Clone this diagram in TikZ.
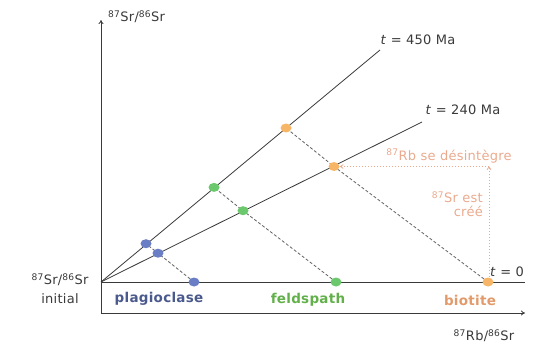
\documentclass[tikz,border=0pt]{standalone}
\usepackage{fontspec}
\setmainfont{DejaVu Sans}[LetterSpace=2]
\usetikzlibrary{arrows.meta,shapes.geometric}
\definecolor{axisgray}{HTML}{3A3A3A}
\definecolor{bluedot}{HTML}{6A7EC6}
\definecolor{bluetxt}{HTML}{4B5A8C}
\definecolor{greendot}{HTML}{6CC86C}
\definecolor{greentxt}{HTML}{62B04A}
\definecolor{orangedot}{HTML}{F7B567}
\definecolor{orangetxt}{HTML}{E39A6B}
\definecolor{annot}{HTML}{EAAA8E}
\begin{document}
\begin{tikzpicture}[x=1pt,y=-1pt,
  dot/.style={ellipse,minimum width=11pt,minimum height=9pt,inner sep=0pt,draw=none},
  ax/.style={draw=axisgray,line width=0.8pt,-{To[length=4pt,width=5pt]}},
  iso/.style={draw=axisgray,line width=0.8pt},
  dsh/.style={draw=axisgray!80,line width=0.8pt,dash pattern=on 3pt off 2pt},
  ann/.style={draw=annot,line width=0.8pt,dash pattern=on 1.5pt off 1.5pt,-{To[length=3.5pt,width=4.5pt]}},
  lbl/.style={font=\fontsize{13}{14}\selectfont,text=axisgray,inner sep=1pt},
  mineral/.style={font=\fontsize{13.5}{15}\selectfont\bfseries,inner sep=1pt}]
\useasboundingbox (0,0) rectangle (537,345);
% axes
\coordinate (O) at (101,313);
\coordinate (ytop) at (101,20);
\coordinate (xend) at (525,313);
\draw[ax] (O) -- (ytop);
\draw[ax] (O) -- (xend);
% origin of isochrons and baseline
\coordinate (S) at (101,282);
\coordinate (Bend) at (525,282);
\coordinate (E450) at (380,50);
\coordinate (E240) at (422,122);
\draw[iso] (S) -- (Bend);
\draw[iso] (S) -- (E450);
\draw[iso] (S) -- (E240);
% points
\coordinate (b0) at (194,282);
\coordinate (b2) at (158,253.2);
\coordinate (b4) at (146,243.7);
\coordinate (g0) at (336,282);
\coordinate (g2) at (243,210.7);
\coordinate (g4) at (214,187.4);
\coordinate (o0) at (488,282);
\coordinate (o2) at (334,166.5);
\coordinate (o4) at (286,128);
% dashed evolution lines
\draw[dsh] (b0) -- (b2) -- (b4);
\draw[dsh] (g0) -- (g2) -- (g4);
\draw[dsh] (o0) -- (o2) -- (o4);
% annotation arrows
\coordinate (o0top) at (489,277);
\coordinate (corner) at (489,166.5);
\coordinate (o2right) at (340,166.5);
\draw[ann] (o0top) -- (corner);
\draw[ann] (corner) -- (o2right);
% dots
\node[dot,fill=bluedot] (B0) at (b0) {};
\node[dot,fill=bluedot] (B2) at (b2) {};
\node[dot,fill=bluedot] (B4) at (b4) {};
\node[dot,fill=greendot] (G0) at (g0) {};
\node[dot,fill=greendot] (G2) at (g2) {};
\node[dot,fill=greendot] (G4) at (g4) {};
\node[dot,fill=orangedot] (O0) at (o0) {};
\node[dot,fill=orangedot] (O2) at (o2) {};
\node[dot,fill=orangedot] (O4) at (o4) {};
% labels
\node[lbl,anchor=west] (ylab) at (107,17) {\textsuperscript{87}Sr/\textsuperscript{86}Sr};
\node[lbl] (xlab) at (484,336) {\textsuperscript{87}Rb/\textsuperscript{86}Sr};
\node[lbl] (t450) at (418,40) {\textit{t} = 450 Ma};
\node[lbl] (t240) at (463,110) {\textit{t} = 240 Ma};
\node[lbl] (t0) at (507,272) {\textit{t} = 0};
\node[lbl,align=center] (init) at (60,289) {\textsuperscript{87}Sr/\textsuperscript{86}Sr\\[5pt]initial};
\node[lbl,text=annot] (desint) at (449,156) {\textsuperscript{87}Rb se désintègre};
\node[lbl,text=annot,align=right,anchor=east] (cree) at (484,204) {\textsuperscript{87}Sr est\\[0pt]créé};
\node[mineral,text=bluetxt] (plag) at (159,299) {plagioclase};
\node[mineral,text=greentxt] (feld) at (308,300) {feldspath};
\node[mineral,text=orangetxt] (biot) at (470,300) {biotite};
\end{tikzpicture}
\end{document}
